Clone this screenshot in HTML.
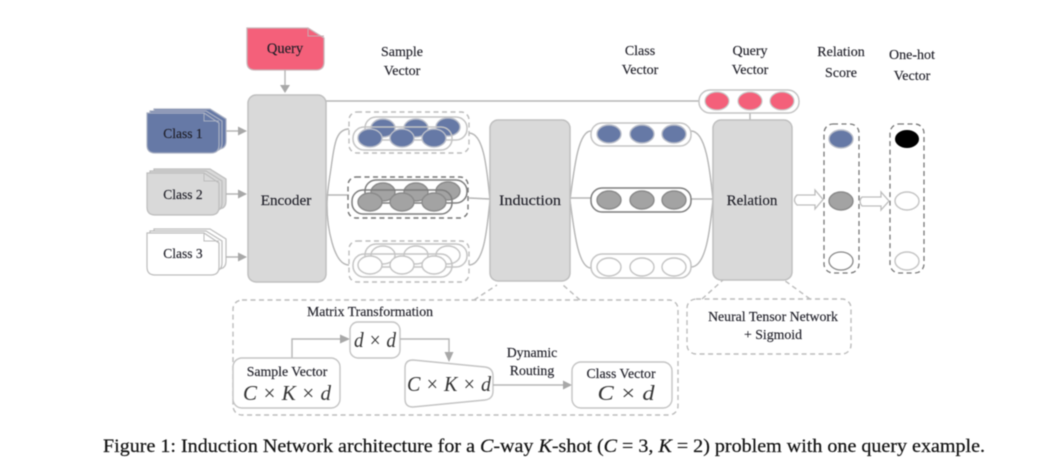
<!DOCTYPE html>
<html><head><meta charset="utf-8">
<style>
html,body{margin:0;padding:0;background:#fff;width:1064px;height:474px;overflow:hidden}
svg{display:block;filter:blur(0.45px)}
text{font-family:"Liberation Serif",serif;fill:#1f1f28;text-anchor:middle;stroke:#1f1f28;stroke-width:.15}
.l{font-size:14px}
.s{font-size:13.8px}
.m{font-size:21.5px;font-style:italic;fill:#333;stroke:none}
.cap{stroke:#c4c4c4;stroke-width:1.5;fill:#fff}
.capn{stroke:#c4c4c4;stroke-width:1.5;fill:none}
.dk{stroke:#7d7d7d}
.w{fill:#fff;stroke:#c4c4c4;stroke-width:1.4}
.b{fill:#6679a6;stroke:#b9bdc8;stroke-width:1.4}
.g{fill:#a3a3a3;stroke:#8a8a8a;stroke-width:1.4}
.p{fill:#f4607a;stroke:#c9c9c9;stroke-width:1.2}
.box{fill:#d9d9d9;stroke:#bfbfbf;stroke-width:1.5}
.ln{fill:none;stroke:#b5b5b5;stroke-width:1.4}
.ds{fill:none;stroke:#bcbcbc;stroke-width:1.4;stroke-dasharray:5 3.5}
.dsk{fill:none;stroke:#777;stroke-width:1.4;stroke-dasharray:5 3.5}
.ar{fill:#a8a8a8}
</style></head><body>
<svg width="1064" height="474" viewBox="0 0 1064 474" xmlns="http://www.w3.org/2000/svg">
<!-- connecting curves -->
<path class="ln" d="M349 129C334 129 334 150 330 175C328 188 327 200 327 205C327 225 333 265 349 265"/>
<path class="ln" d="M326 195H349"/>
<path class="ln" d="M469 133C484 133 487 170 490 200C487 230 484 265 469 265"/>
<path class="ln" d="M469 198L490 199"/>
<path class="ln" d="M591 131C578 131 574 170 570 200C574 230 578 268 591 268"/>
<path class="ln" d="M570 198H591"/>
<path class="ln" d="M691 131C706 131 710 170 713 200C710 230 706 267 691 267"/>
<path class="ln" d="M691 199H713"/>
<path class="ln" d="M326 101H699"/>
<path class="ln" d="M750 113V120"/>

<!-- Query doc -->
<path d="M247 28H308L324 38V62Q324 70 316 70H255Q247 70 247 62Z" fill="#f4607a" stroke="#c9b4b8" stroke-width="1.3"/>
<path d="M308 28V36H324" fill="none" stroke="#c9a9b0" stroke-width="1"/>
<text x="285" y="53" font-size="14.5">Query</text>
<path class="ln" d="M285 70V88"/><path class="ar" d="M280 85H290L285 93Z"/>

<!-- Class stacks -->
<g fill="#6679a6" stroke="#a9b0c2" stroke-width="1.2">
<path d="M154 109H210L226 119V141Q226 149 218 149H162Q154 149 154 141Z"/>
<path d="M150 111H206L222 121V143Q222 151 214 151H158Q150 151 150 143Z"/>
<path d="M147 113H204L219 123V145Q219 153 211 153H155Q147 153 147 145Z"/>
</g>
<path d="M204 113V121H219" fill="none" stroke="#a9b0c2"/>
<g fill="#d9d9d9" stroke="#bdbdbd" stroke-width="1.2">
<path d="M154 169H210L226 179V201Q226 209 218 209H162Q154 209 154 201Z"/>
<path d="M150 171H206L222 181V203Q222 211 214 211H158Q150 211 150 203Z"/>
<path d="M147 173H204L219 183V207Q219 215 211 215H155Q147 215 147 207Z"/>
</g>
<path d="M204 173V181H219" fill="none" stroke="#bdbdbd"/>
<g fill="#fff" stroke="#bdbdbd" stroke-width="1.2">
<path d="M154 229H210L226 239V261Q226 269 218 269H162Q154 269 154 261Z"/>
<path d="M150 231H206L222 241V263Q222 271 214 271H158Q150 271 150 263Z"/>
<path d="M147 233H204L219 243V267Q219 275 211 275H155Q147 275 147 267Z"/>
</g>
<path d="M204 233V241H219" fill="none" stroke="#bdbdbd"/>
<text x="183" y="138" font-size="13.5">Class 1</text>
<text x="183" y="199" font-size="13.5">Class 2</text>
<text x="183" y="258" font-size="13.5">Class 3</text>
<g class="ln"><path d="M226 131H240M226 194H240M226 257H240"/></g>
<path class="ar" d="M238 126.500L247 131L238 135.500ZM238 189.500L247 194L238 198.500ZM238 252.500L247 257L238 261.500Z"/>

<!-- Encoder / Induction / Relation -->
<rect class="box" x="248" y="95" width="78" height="187" rx="8"/>
<rect class="box" x="490" y="120" width="80" height="161" rx="8"/>
<rect class="box" x="713" y="120" width="79" height="160" rx="8"/>
<text x="286" y="205" font-size="15.2">Encoder</text>
<text x="530" y="205" font-size="15.2" textLength="62" lengthAdjust="spacingAndGlyphs">Induction</text>
<text x="752" y="205" font-size="15">Relation</text>

<!-- Header labels -->
<text class="l" x="402" y="56">Sample</text><text class="l" x="402" y="75">Vector</text>
<text class="l" x="640" y="55">Class</text><text class="l" x="640" y="74">Vector</text>
<text class="l" x="750" y="55">Query</text><text class="l" x="750" y="74">Vector</text>
<text class="l" x="841" y="56">Relation</text><text class="l" x="841" y="77">Score</text>
<text class="l" x="912" y="59">One-hot</text><text class="l" x="912" y="80">Vector</text>

<!-- Sample group 1 -->
<rect class="ds" x="349" y="112" width="120" height="41" rx="8"/>
<rect class="capn" x="365" y="117" width="102" height="23" rx="11"/>
<g class="b"><ellipse cx="383" cy="128" rx="12" ry="9"/><ellipse cx="416" cy="128" rx="12" ry="9"/><ellipse cx="448" cy="127" rx="12" ry="9"/></g>
<rect class="capn" x="353" y="127" width="99" height="23" rx="11"/>
<g class="b"><ellipse cx="370" cy="138" rx="12" ry="9"/><ellipse cx="402" cy="138" rx="12" ry="9"/><ellipse cx="434" cy="138" rx="12" ry="9"/></g>
<!-- Sample group 2 -->
<rect class="dsk" x="348" y="177" width="120" height="41" rx="8"/>
<rect class="capn dk" x="365" y="180" width="102" height="23" rx="11"/>
<g class="g"><ellipse cx="383" cy="192" rx="12" ry="9"/><ellipse cx="416" cy="192" rx="12" ry="9"/><ellipse cx="448" cy="191" rx="12" ry="9"/></g>
<rect class="capn dk" x="352" y="190" width="100" height="24" rx="11"/>
<g class="g"><ellipse cx="370" cy="202" rx="12" ry="9"/><ellipse cx="402" cy="202" rx="12" ry="9"/><ellipse cx="434" cy="202" rx="12" ry="9"/></g>
<!-- Sample group 3 -->
<rect class="ds" x="349" y="241" width="120" height="41" rx="8"/>
<rect class="capn" x="365" y="244" width="102" height="23" rx="11"/>
<g class="w"><ellipse cx="383" cy="255" rx="12" ry="9"/><ellipse cx="416" cy="255" rx="12" ry="9"/><ellipse cx="448" cy="255" rx="12" ry="9"/></g>
<rect class="capn" x="353" y="254" width="99" height="23" rx="11"/>
<g class="w"><ellipse cx="370" cy="265" rx="12" ry="9"/><ellipse cx="402" cy="265" rx="12" ry="9"/><ellipse cx="434" cy="265" rx="12" ry="9"/></g>

<!-- Class vectors -->
<rect class="cap" x="591" y="123" width="100" height="23" rx="11"/>
<g class="b"><ellipse cx="609" cy="134" rx="12" ry="9"/><ellipse cx="642" cy="134" rx="12" ry="9"/><ellipse cx="674" cy="134" rx="12" ry="9"/></g>
<rect class="cap dk" x="591" y="188" width="100" height="24" rx="11"/>
<g class="g"><ellipse cx="609" cy="200" rx="12" ry="9"/><ellipse cx="642" cy="200" rx="12" ry="9"/><ellipse cx="674" cy="200" rx="12" ry="9"/></g>
<rect class="cap" x="591" y="254" width="100" height="24" rx="11"/>
<g class="w"><ellipse cx="609" cy="267" rx="12" ry="9"/><ellipse cx="642" cy="267" rx="12" ry="9"/><ellipse cx="674" cy="267" rx="12" ry="9"/></g>

<!-- Query vector -->
<rect class="cap" x="699" y="90" width="100" height="23" rx="11"/>
<g class="p"><ellipse cx="717" cy="101" rx="12" ry="9"/><ellipse cx="750" cy="101" rx="12" ry="9"/><ellipse cx="782" cy="101" rx="12" ry="9"/></g>

<!-- Relation Score -->
<rect x="824" y="124" width="35" height="149" rx="9" fill="none" stroke="#777" stroke-width="1.3" stroke-dasharray="5 3.500"/>
<ellipse class="b" cx="841" cy="139" rx="12" ry="9"/>
<ellipse class="g" cx="841" cy="201" rx="12" ry="9"/>
<ellipse cx="841" cy="261" rx="12" ry="9" fill="#fff" stroke="#888" stroke-width="1.3"/>
<!-- One-hot -->
<rect x="890" y="124" width="34" height="149" rx="9" fill="none" stroke="#777" stroke-width="1.3" stroke-dasharray="5 3.500"/>
<ellipse cx="907" cy="139" rx="12" ry="9" fill="#000"/>
<ellipse class="w" cx="907" cy="201" rx="12" ry="9"/>
<ellipse class="w" cx="907" cy="261" rx="12" ry="9"/>

<!-- Hollow arrows -->
<path d="M797 195H815V190L823 199.500L815 209V205H797Q792 200 797 195Z" fill="#fff" stroke="#bdbdbd" stroke-width="1.300"/>
<path d="M862 197H881V192L889 201L881 210V206H862Q858 201 862 197Z" fill="#fff" stroke="#bdbdbd" stroke-width="1.300"/>

<!-- Dashed callouts -->
<path class="ds" d="M474 300L497 285M580 300L563 285"/>
<path class="ds" d="M702 299L723 280M810 299L784 280"/>
<rect class="ds" x="233" y="300" width="445" height="115" rx="9"/>
<rect class="ds" x="687" y="299" width="164" height="55" rx="9"/>
<text class="s" x="773" y="321">Neural Tensor Network</text>
<text class="s" x="773" y="339">+ Sigmoid</text>

<!-- Detail -->
<text class="s" x="370" y="316">Matrix Transformation</text>
<path class="ln" d="M292 358V339H342"/><path class="ar" d="M340 334.500L350 339L340 343.500Z"/>
<rect class="w" x="350" y="322" width="50" height="36" rx="8"/>
<text class="m" x="375" y="347" textLength="42" lengthAdjust="spacingAndGlyphs">d × d</text>
<path class="ln" d="M400 339H449V353"/><path class="ar" d="M444.500 352H453.500L449 362Z"/>
<rect class="w" x="233" y="358" width="107" height="50" rx="9"/>
<text class="s" x="287" y="376">Sample Vector</text>
<text class="m" x="287" y="400" textLength="88" lengthAdjust="spacingAndGlyphs">C × K × d</text>
<path d="M413 360L485 367Q493 368 493 376V391Q493 399 485 400L413 407Q405 407 405 399V368Q405 360 413 360Z" fill="#fff" stroke="#c4c4c4" stroke-width="1.400"/>
<text class="m" x="449" y="391" textLength="84" lengthAdjust="spacingAndGlyphs">C × K × d</text>
<path class="ln" d="M493 385H565"/><path class="ar" d="M563 380.500L572 385L563 389.500Z"/>
<text class="s" x="532" y="357">Dynamic</text>
<text class="s" x="532" y="375">Routing</text>
<rect class="w" x="572" y="362" width="100" height="46" rx="9"/>
<text class="s" x="621" y="378">Class Vector</text>
<text class="m" x="626" y="400" textLength="57" lengthAdjust="spacingAndGlyphs">C × d</text>

<!-- Caption -->
<text x="544" y="452" font-size="18.5" textLength="882" lengthAdjust="spacingAndGlyphs" style="fill:#111;stroke:#111;stroke-width:.2">Figure 1: Induction Network architecture for a <tspan font-style="italic">C</tspan>-way <tspan font-style="italic">K</tspan>-shot (<tspan font-style="italic">C</tspan> = 3, <tspan font-style="italic">K</tspan> = 2) problem with one query example.</text>
</svg>
</body></html>
